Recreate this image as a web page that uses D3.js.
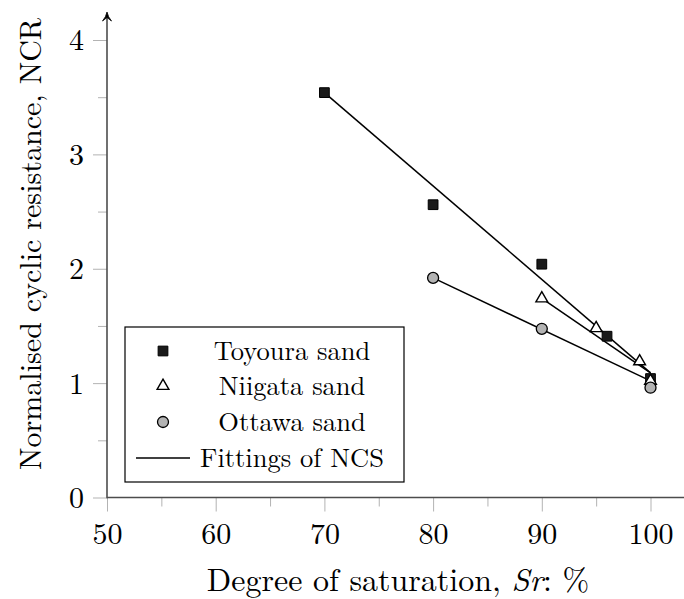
<!DOCTYPE html>
<html>
<head>
<meta charset="utf-8">
<script src="https://cdn.jsdelivr.net/npm/d3@7"></script>
<style>
  html, body { margin: 0; padding: 0; background: #fff; }
  svg { display: block; }
</style>
</head>
<body>
<svg id="chart" width="684" height="599"></svg>
<script>
// ---------------- data ----------------
const xMajorTicks = [50, 60, 70, 80, 90, 100];
const xMinorTicks = [55, 65, 75, 85, 95];
const yMajorTicks = [0, 1, 2, 3, 4];
const yMinorTicks = [0.5, 1.5, 2.5, 3.5];

const toyouraSr  = [70, 80, 90, 96, 100];
const toyouraNCR = [3.54, 2.56, 2.04, 1.41, 1.04];
const niigataSr  = [90, 95, 99, 100];
const niigataNCR = [1.74, 1.48, 1.19, 1.02];
const ottawaSr   = [80, 90, 100];
const ottawaNCR  = [1.92, 1.475, 0.96];

const toyouraFitSr  = [70, 100];
const toyouraFitNCR = [3.54, 1.09];
const niigataFitSr  = [90, 100];
const niigataFitNCR = [1.74, 1.09];
const ottawaFitSr   = [80, 100];
const ottawaFitNCR  = [1.92, 1.02];

const legendLabels = ["Toyoura sand", "Niigata sand", "Ottawa sand", "Fittings of NCS"];
const xLabelParts = ["Degree of saturation, ", "Sr", ": %"];
const yLabel = "Normalised cyclic resistance, NCR";

// ---------------- layout ----------------
const FONT = "'Latin Modern Roman'";
const svg = d3.select("#chart");
const x = d3.scaleLinear().domain([50, 100]).range([107, 650.5]);
const y = d3.scaleLinear().domain([0, 4]).range([497.5, 40]);
const axisY0 = y(0), axisX0 = x(50);
const tickColor = "#b3b3b3";
const axisColor = "#4d4d4d";

// minor ticks (x)
const gxMinor = svg.append("g").attr("transform", `translate(0,${axisY0})`)
  .call(d3.axisBottom(x).tickValues(xMinorTicks).tickSize(9).tickFormat(""));
gxMinor.select(".domain").remove();
gxMinor.selectAll("line").attr("stroke", tickColor).attr("stroke-width", 1);

// major ticks (x)
const gx = svg.append("g").attr("transform", `translate(0,${axisY0})`)
  .call(d3.axisBottom(x).tickValues(xMajorTicks).tickSize(14).tickPadding(0).tickFormat(d3.format("d")));
gx.attr("font-family", null).attr("font-size", null);
gx.select(".domain").remove();
gx.selectAll("line").attr("stroke", tickColor).attr("stroke-width", 1);
gx.selectAll("text").attr("y", null).attr("dy", null)
  .attr("transform", `translate(0,${544 - axisY0})`)
  .style("font-size", "30px").style("font-family", FONT).attr("fill", "#000");

// minor ticks (y)
const gyMinor = svg.append("g").attr("transform", `translate(${axisX0},0)`)
  .call(d3.axisLeft(y).tickValues(yMinorTicks).tickSize(9).tickFormat(""));
gyMinor.select(".domain").remove();
gyMinor.selectAll("line").attr("stroke", tickColor).attr("stroke-width", 1);

// major ticks (y)
const gy = svg.append("g").attr("transform", `translate(${axisX0},0)`)
  .call(d3.axisLeft(y).tickValues(yMajorTicks).tickSize(14).tickPadding(9).tickFormat(d3.format("d")));
gy.attr("font-family", null).attr("font-size", null);
gy.select(".domain").remove();
gy.selectAll("line").attr("stroke", tickColor).attr("stroke-width", 1);
gy.selectAll("text").attr("x", -23).attr("dy", "0.33em")
  .style("font-size", "30px").style("font-family", FONT).attr("fill", "#000");

// axis lines
svg.append("line").attr("x1", axisX0).attr("x2", 684).attr("y1", axisY0).attr("y2", axisY0)
  .attr("stroke", axisColor).attr("stroke-width", 1.6);
svg.append("line").attr("x1", axisX0).attr("x2", axisX0).attr("y1", axisY0 + 0.8).attr("y2", 15)
  .attr("stroke", axisColor).attr("stroke-width", 1.6);
// arrow head on y axis
svg.append("path")
  .attr("d", `M${axisX0 - 4.5},${21} Q${axisX0 - 1},${17} ${axisX0},${12} Q${axisX0 + 1},${17} ${axisX0 + 4.5},${21} L${axisX0},${17.5} Z`)
  .attr("fill", "#000").attr("stroke", "#000").attr("stroke-width", 0.8).attr("stroke-linejoin", "round");

// axis labels
const xl = svg.append("text").attr("x", 398).attr("y", 591).attr("text-anchor", "middle")
  .style("font-size", "32px").style("font-family", FONT).attr("fill", "#000");
xl.append("tspan").text(xLabelParts[0]);
xl.append("tspan").style("font-style", "italic").text(xLabelParts[1]);
xl.append("tspan").text(xLabelParts[2]);

svg.append("text").attr("transform", "translate(41,244) rotate(-90)").attr("text-anchor", "middle")
  .style("font-size", "30px").style("font-family", FONT).attr("fill", "#000").text(yLabel);

// ---------------- fit lines ----------------
const line = d3.line().x(d => x(d[0])).y(d => y(d[1]));
const fits = [
  d3.zip(toyouraFitSr, toyouraFitNCR),
  d3.zip(niigataFitSr, niigataFitNCR),
  d3.zip(ottawaFitSr, ottawaFitNCR)
];
svg.append("g").selectAll("path").data(fits).join("path")
  .attr("d", line).attr("fill", "none").attr("stroke", "#000").attr("stroke-width", 1.5);

// ---------------- markers ----------------
const squareSym = d3.symbol().type(d3.symbolSquare).size(95);
const triSym = d3.symbol().type(d3.symbolTriangle).size(60);
const circSym = d3.symbol().type(d3.symbolCircle).size(95);

function drawMarker(sel, kind) {
  if (kind === 0) sel.attr("d", squareSym()).attr("fill", "#1a1a1a").attr("stroke", "#000").attr("stroke-width", 1);
  else if (kind === 1) sel.attr("d", triSym()).attr("fill", "#fff").attr("stroke", "#000").attr("stroke-width", 1.4);
  else sel.attr("d", circSym()).attr("fill", "#b3b3b3").attr("stroke", "#000").attr("stroke-width", 1.3);
}

const series = [
  { kind: 0, pts: d3.zip(toyouraSr, toyouraNCR) },
  { kind: 1, pts: d3.zip(niigataSr, niigataNCR) },
  { kind: 2, pts: d3.zip(ottawaSr, ottawaNCR) }
];
series.forEach(s => {
  svg.append("g").selectAll("path").data(s.pts).join("path")
    .attr("transform", d => `translate(${x(d[0])},${y(d[1])})`)
    .call(sel => drawMarker(sel, s.kind));
});

// ---------------- legend ----------------
const lg = svg.append("g");
lg.append("rect").attr("x", 125).attr("y", 327).attr("width", 279).attr("height", 155)
  .attr("fill", "#fff").attr("stroke", "#000").attr("stroke-width", 1.2);
const rowY = [351, 386, 422, 458];
legendLabels.forEach((lab, i) => {
  if (i < 3) {
    lg.append("path").attr("transform", `translate(163,${rowY[i]})`).call(sel => drawMarker(sel, i));
  } else {
    lg.append("line").attr("x1", 136).attr("x2", 190).attr("y1", rowY[i]).attr("y2", rowY[i])
      .attr("stroke", "#000").attr("stroke-width", 1.5);
  }
  lg.append("text").attr("x", 292).attr("y", rowY[i] + 9).attr("text-anchor", "middle")
    .style("font-size", "26.5px").style("font-family", FONT).attr("fill", "#000").text(lab);
});
</script>
</body>
</html>
